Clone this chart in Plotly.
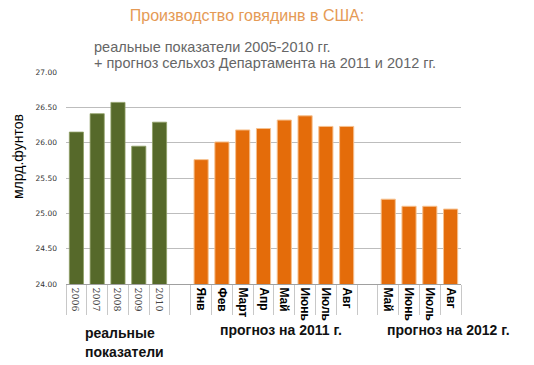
import plotly.graph_objects as go

# ---- data ----
years = ["2006", "2007", "2008", "2009", "2010"]
real_values = [26.15, 26.41, 26.57, 25.95, 26.29]

months_2011 = ["Янв", "Фев", "Март", "Апр", "Май", "Июнь", "Июль", "Авг"]
forecast_2011 = [25.76, 26.01, 26.18, 26.20, 26.32, 26.38, 26.23, 26.23]

months_2012 = ["Май", "Июнь", "Июль", "Авг"]
forecast_2012 = [25.20, 25.10, 25.10, 25.06]

y_ticks = [24.0, 24.5, 25.0, 25.5, 26.0, 26.5, 27.0]

# ---- categories (unique keys) ----
cat_years = years
cat_gap1 = ["gap1"]
cat_2011 = [m + " 2011" for m in months_2011]
cat_gap2 = ["gap2"]
cat_2012 = [m + " 2012" for m in months_2012]
all_cats = cat_years + cat_gap1 + cat_2011 + cat_gap2 + cat_2012

tick_text = (
    ['<span style="font-size:9.5px;font-family:DejaVu Serif;color:#444">%s</span>' % y for y in years]
    + [" "]
    + ["<b>%s</b>" % m for m in months_2011]
    + [" "]
    + ["<b>%s</b>" % m for m in months_2012]
)

GREEN = "#56692a"
ORANGE = "#e46c0a"

fig = go.Figure()
fig.add_trace(go.Bar(x=cat_years, y=real_values, marker=dict(color=GREEN, line=dict(color="#8fa066", width=0.8)),
                     showlegend=False, hoverinfo="x+y"))
fig.add_trace(go.Bar(x=cat_2011, y=forecast_2011, marker=dict(color=ORANGE, line=dict(color="#f6c18f", width=1)),
                     showlegend=False, hoverinfo="x+y"))
fig.add_trace(go.Bar(x=cat_2012, y=forecast_2012, marker=dict(color=ORANGE, line=dict(color="#f6c18f", width=1)),
                     showlegend=False, hoverinfo="x+y"))

L, R, T, B = 66, 73, 72, 81
W, H = 534, 365
pw, ph = W - L - R, H - T - B

def px(x):
    return (x - L) / pw

def py(y):
    return (H - B - y) / ph

fig.update_layout(
    width=W, height=H,
    margin=dict(l=L, r=R, t=T, b=B, pad=0),
    paper_bgcolor="white", plot_bgcolor="white",
    barmode="overlay", bargap=0.32,
    font=dict(family="Liberation Sans, Arial, sans-serif", color="#000"),
    title=dict(text="Производство говядинв в США:", x=247 / W, xanchor="center",
               y=1 - 15 / H, yanchor="middle",
               font=dict(size=16, color="#e59a55", family="Liberation Sans, Arial, sans-serif")),
    xaxis=dict(
        type="category", categoryorder="array", categoryarray=all_cats,
        range=[-0.5, len(all_cats) - 0.5],
        tickmode="array", tickvals=all_cats, ticktext=tick_text,
        tickangle=90, tickson="boundaries", ticks="outside", ticklen=30,
        tickcolor="#c8c8c8", tickwidth=1,
        tickfont=dict(size=12, color="#000"),
        showline=True, linecolor="#a0a0a0", linewidth=1,
        showgrid=False, fixedrange=True,
    ),
    yaxis=dict(
        range=[24, 27], tickmode="array", tickvals=y_ticks,
        ticktext=["%.2f" % v for v in y_ticks],
        tickfont=dict(size=7.5, color="#333", family="DejaVu Sans, Verdana, sans-serif"),
        showgrid=True, gridcolor="#bdbdbd", gridwidth=1,
        zeroline=False, showline=False, ticks="", ticklabelstandoff=8,
        fixedrange=True,
    ),
    annotations=[
        dict(text="реальные показатели 2005-2010 гг.", xref="paper", yref="paper",
             x=px(92), y=py(46.5), xanchor="left", yanchor="middle", showarrow=False,
             font=dict(size=14.5, color="#666")),
        dict(text="+ прогноз сельхоз Департамента на 2011 и 2012 гг.", xref="paper", yref="paper",
             x=px(92), y=py(62.5), xanchor="left", yanchor="middle", showarrow=False,
             font=dict(size=14.5, color="#666")),
        dict(text="млрд.фунтов", xref="paper", yref="paper", x=px(18), y=py(157),
             xanchor="center", yanchor="middle", textangle=-90, showarrow=False,
             font=dict(size=14, color="#000")),
        dict(text="<b>реальные</b>", xref="paper", yref="paper", x=px(83), y=py(333),
             xanchor="left", yanchor="middle", showarrow=False, font=dict(size=14, color="#111")),
        dict(text="<b>показатели</b>", xref="paper", yref="paper", x=px(83), y=py(352),
             xanchor="left", yanchor="middle", showarrow=False, font=dict(size=14, color="#111")),
        dict(text="<b>прогноз на 2011 г.</b>", xref="paper", yref="paper", x=px(281), y=py(330),
             xanchor="center", yanchor="middle", showarrow=False, font=dict(size=14, color="#111")),
        dict(text="<b>прогноз на 2012 г.</b>", xref="paper", yref="paper", x=px(448), y=py(330),
             xanchor="center", yanchor="middle", showarrow=False, font=dict(size=14, color="#111")),
    ],
)

fig.write_html("out.html", config={"displayModeBar": False},
               post_script="document.body.style.margin='0px';")
